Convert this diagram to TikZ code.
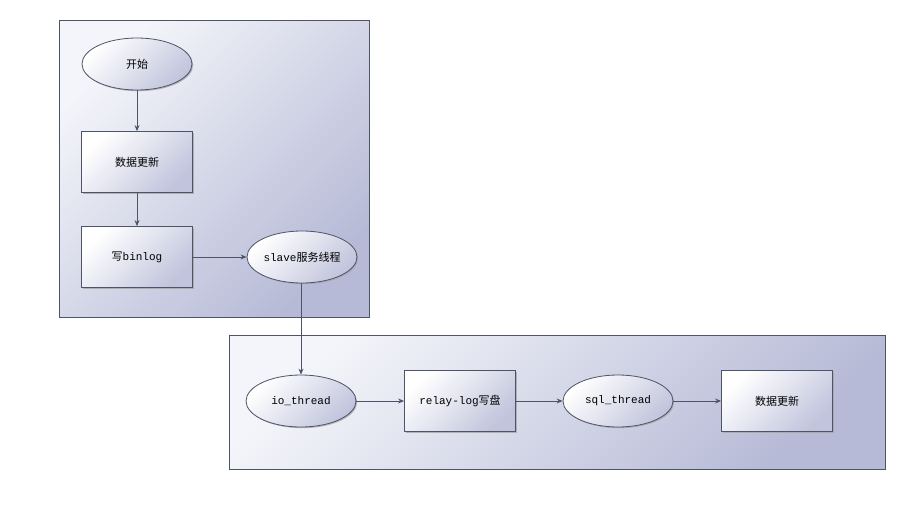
\documentclass[tikz,border=0pt]{standalone}
\usepackage{fontspec}
\setmainfont{Liberation Mono}
\newfontfamily\cjk{Noto Sans CJK SC}
\usetikzlibrary{shapes.geometric,shadows,arrows.meta}
\definecolor{edge}{HTML}{4E5468}
\definecolor{lite}{HTML}{F4F5FA}
\definecolor{dark}{HTML}{B6BAD6}
\tikzset{
  container/.style={draw=edge, line width=0.9pt, top color=lite, bottom color=dark, shading angle=45,
    drop shadow={shadow xshift=1.2pt, shadow yshift=-1.2pt, fill=gray!70, opacity=0.8}},
  procbox/.style={rectangle, draw=edge, line width=0.8pt, minimum width=111pt, minimum height=61pt,
    top color=white, bottom color=dark!85, shading angle=45, font=\fontsize{11}{13}\selectfont,
    drop shadow={shadow xshift=1.2pt, shadow yshift=-1.2pt, fill=gray!70, opacity=0.8}},
  termnode/.style={ellipse, draw=edge, line width=0.8pt, minimum width=110pt, minimum height=52pt, inner sep=0pt,
    top color=white, bottom color=dark!85, shading angle=45, font=\fontsize{11}{13}\selectfont,
    drop shadow={shadow xshift=1.2pt, shadow yshift=-1.2pt, fill=gray!70, opacity=0.8}},
  link/.style={draw=edge, line width=0.9pt, -{Stealth[length=6pt,width=5pt]}}
}
\begin{document}
\begin{tikzpicture}[x=1pt,y=-1pt]
\useasboundingbox (0,0) rectangle (923,514);
\fill[white] (0,0) rectangle (923,514);
\path[container] (59,20) rectangle (369,317);
\path[container] (229,335) rectangle (885,469);
\node[termnode] (start) at (137,64) {\cjk 开始};
\node[procbox] (upd1) at (137,162) {\cjk 数据更新};
\node[procbox] (binlog) at (137,257) {{\cjk 写}binlog};
\node[termnode] (slave) at (302,257) {slave{\cjk 服务线程}};
\node[termnode] (io) at (301,401) {io\_thread};
\node[procbox] (relay) at (460,401) {relay-log{\cjk 写盘}};
\node[termnode] (sql) at (618,401) {sql\_thread};
\node[procbox] (upd2) at (777,401) {\cjk 数据更新};
\draw[link] (start) -- (upd1);
\draw[link] (upd1) -- (binlog);
\draw[link] (binlog) -- (slave);
\draw[link] (slave.south -| io.north) -- (io.north);
\draw[link] (io) -- (relay);
\draw[link] (relay) -- (sql);
\draw[link] (sql) -- (upd2);
\end{tikzpicture}
\end{document}
